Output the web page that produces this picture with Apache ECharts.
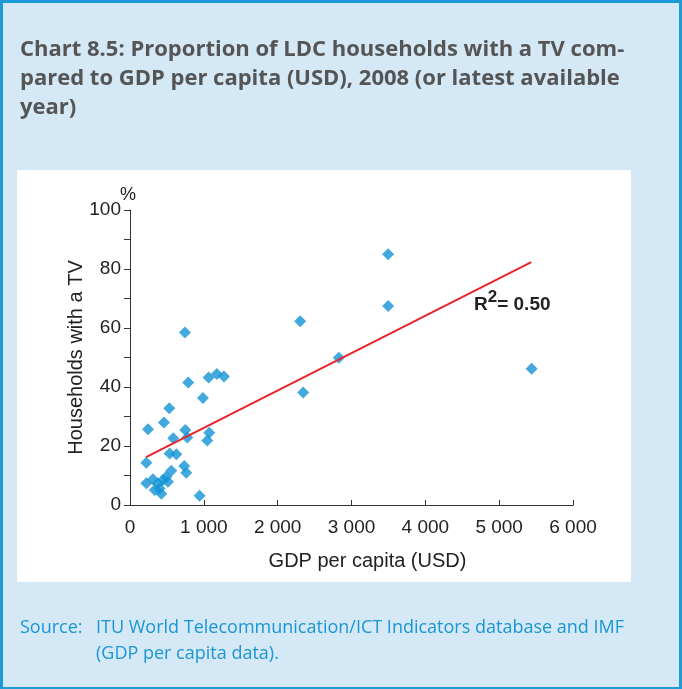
<!DOCTYPE html>
<html>
<head>
<meta charset="utf-8">
<script src="https://cdn.jsdelivr.net/npm/echarts@6/dist/echarts.min.js"></script>
<style>
  html, body { margin: 0; padding: 0; }
  #box {
    width: 682px; height: 689px; box-sizing: border-box;
    background: #d4e8f6;
    border: 3px solid #1e9ad6;
    border-bottom-width: 2px;
  }
  #myChart { width: 676px; height: 684px; }
</style>
</head>
<body>
<div id="box"><div id="myChart"></div></div>
<script>
  // GDP per capita (USD), households with a TV (%)
  var gdp = [3496, 3496, 2305, 2828, 2346, 5440, 744, 789, 1065, 1177, 1272, 988,
    532, 460, 244, 749, 776, 586, 1073, 1046, 537, 627, 221, 735, 762, 559,
    221, 311, 379, 447, 492, 334, 424, 514, 401, 943];
  var tv = [85.0, 67.5, 62.3, 49.9, 38.1, 46.2, 58.5, 41.5, 43.2, 44.4, 43.6, 36.3,
    32.8, 28.0, 25.7, 25.4, 22.9, 22.6, 24.5, 21.9, 17.5, 17.2, 14.3, 13.2, 10.9, 11.6,
    7.4, 8.7, 7.3, 8.5, 9.6, 5.1, 3.8, 7.9, 5.6, 3.1];
  // trend line ends
  var trendX = [217, 5435];
  var trendY = [16.2, 82.3];

  var points = gdp.map(function (x, i) { return [x, tv[i]]; });
  var trend = trendX.map(function (x, i) { return [x, trendY[i]]; });

  var axisFont = 'Liberation Sans, Arial, sans-serif';
  // offsets because chart div sits inside a 3px border
  var ox = -3, oy = -3;

  var myChart = echarts.init(document.getElementById('myChart'));
  myChart.setOption({
    animation: false,
    title: {
      text: 'Chart 8.5: Proportion of LDC households with a TV com-\npared to GDP per capita (USD), 2008 (or latest available\nyear)',
      left: 15 + ox, top: 30 + oy,
      textStyle: { color: '#555555', fontFamily: 'Open Sans', fontWeight: 'bold', fontSize: 22, lineHeight: 29 }
    },
    graphic: [
      { type: 'rect', z: -10, shape: { x: 17 + ox, y: 170 + oy, width: 614, height: 412 }, style: { fill: '#ffffff' } },
      { type: 'text', left: 120 + ox, top: 186 + oy, style: { text: '%', font: '18px ' + axisFont, fill: '#222' } },
      {
        type: 'text', left: 474 + ox, top: 289 + oy,
        style: {
          text: '{r|R}{s|2}{t|= 0.50}',
          rich: {
            r: { fontFamily: axisFont, fontWeight: 'bold', fontSize: 19, fill: '#222', verticalAlign: 'bottom' },
            s: { fontFamily: axisFont, fontWeight: 'bold', fontSize: 17, fill: '#222', padding: [0, 0, 8, 0], verticalAlign: 'bottom' },
            t: { fontFamily: axisFont, fontWeight: 'bold', fontSize: 19, fill: '#222', verticalAlign: 'bottom' }
          }
        }
      },
      {
        type: 'text', left: 20 + ox, top: 615 + oy,
        style: { text: 'Source:', font: '18px Open Sans', lineHeight: 26, fill: '#1a96d4' }
      },
      {
        type: 'text', left: 96 + ox, top: 615 + oy,
        style: { text: 'ITU World Telecommunication/ICT Indicators database and IMF\n(GDP per capita data).', font: '18px Open Sans', lineHeight: 26, fill: '#1a96d4' }
      }
    ],
    grid: { left: 130 + ox, right: 109 - 3, top: 210 + oy, bottom: 184 - 2 },
    xAxis: {
      type: 'value', min: 0, max: 6000, interval: 1000,
      name: 'GDP per capita (USD)', nameLocation: 'middle', nameGap: 46, nameMoveOverlap: false,
      nameTextStyle: { fontFamily: axisFont, fontSize: 20, color: '#222', padding: [0, 0, 0, 32] },
      axisLine: { show: true, lineStyle: { color: '#333', width: 1 } },
      axisTick: { show: true, inside: true, length: 5, lineStyle: { color: '#333' } },
      axisLabel: {
        fontFamily: axisFont, fontSize: 19, color: '#222', margin: 13,
        formatter: function (v) { return String(v).replace(/\B(?=(\d{3})+(?!\d))/g, ' '); }
      },
      splitLine: { show: false }
    },
    yAxis: {
      type: 'value', min: 0, max: 100, interval: 10,
      name: 'Households with a TV', nameLocation: 'middle', nameGap: 44, nameRotate: 90, nameMoveOverlap: false,
      nameTextStyle: { fontFamily: axisFont, fontSize: 20, color: '#222' },
      axisLine: { show: true, lineStyle: { color: '#333', width: 1 } },
      axisTick: { show: true, length: 6, lineStyle: { color: '#333' } },
      axisLabel: {
        fontFamily: axisFont, fontSize: 19, color: '#222', margin: 9,
        formatter: function (v) { return v % 20 === 0 ? v : ''; }
      },
      splitLine: { show: false }
    },
    series: [
      {
        name: 'Countries', type: 'scatter', data: points,
        symbol: 'diamond', symbolSize: [12, 12],
        itemStyle: { color: '#1293d6' }
      },
      {
        name: 'Trend', type: 'line', data: trend, symbol: 'none',
        lineStyle: { color: '#e8232b', width: 2 }, z: 3
      }
    ]
  });
</script>
</body>
</html>
